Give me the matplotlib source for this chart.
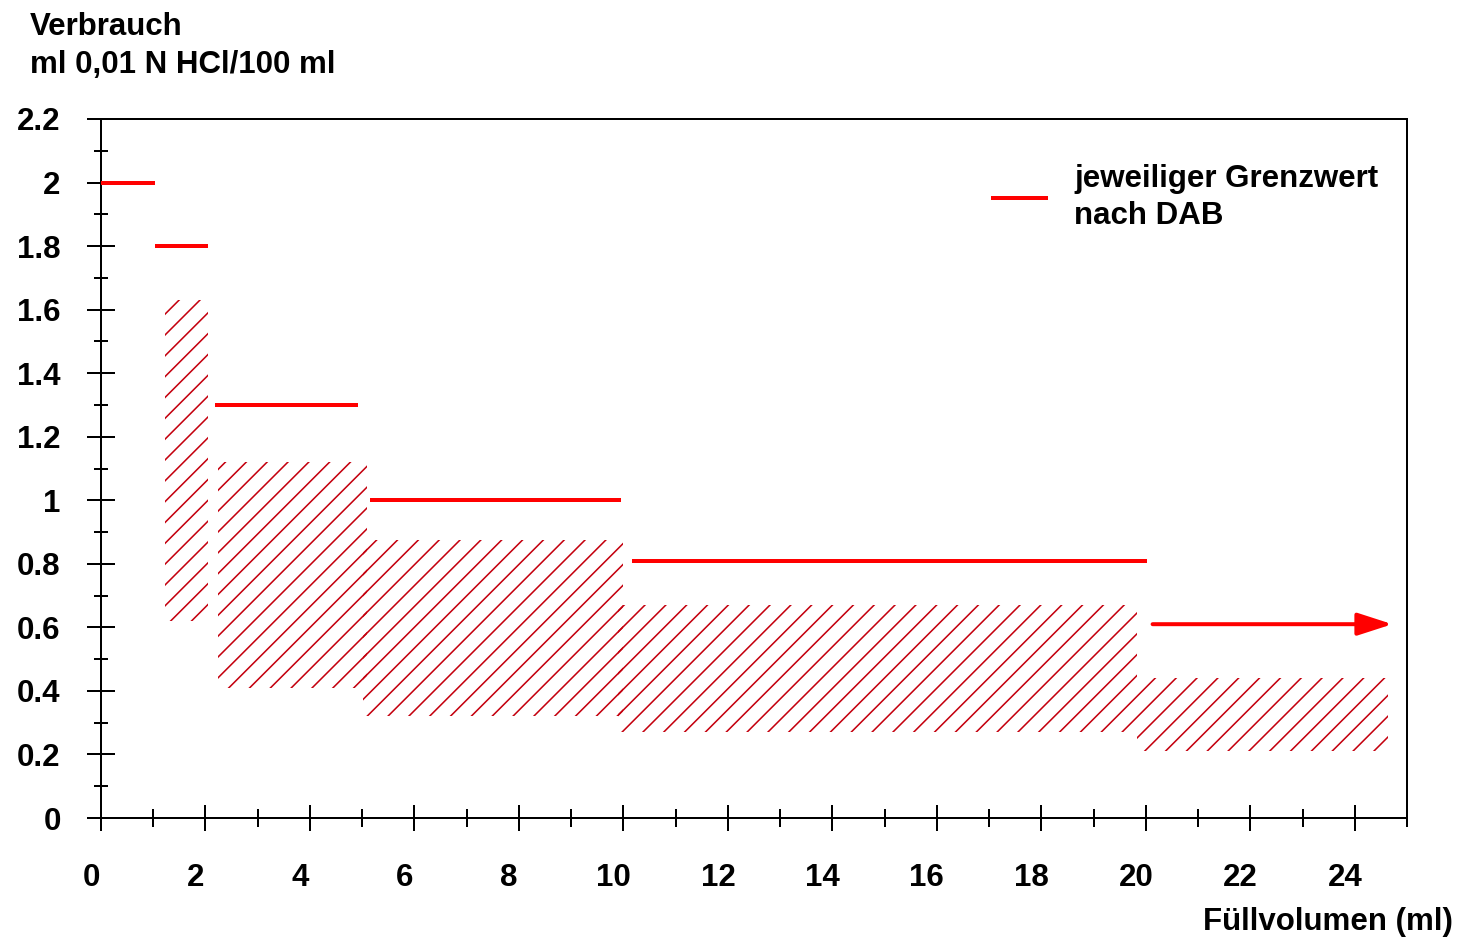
import numpy as np
import matplotlib
matplotlib.use("Agg")
import matplotlib.pyplot as plt
import matplotlib.transforms as mtransforms
from matplotlib.lines import Line2D

# Grenzwerte nach DAB (Stufen je Füllvolumen)
limit_start = [0.0, 1.03, 2.18, 5.15, 10.17, 20.13]
limit_end = [1.03, 2.05, 4.92, 9.96, 20.02, 24.72]
limit_value = [2.0, 1.8, 1.3, 1.0, 0.81, 0.61]

# gemessene Streubereiche (schraffiert)
range_left = [1.23, 2.24, 5.02, 9.9, 19.83]
range_right = [2.05, 5.09, 9.99, 19.83, 24.64]
range_low = [0.62, 0.41, 0.32, 0.27, 0.21]
range_high = [1.63, 1.12, 0.875, 0.67, 0.44]

xticks = np.arange(0, 25, 2)
yticks = np.round(np.arange(0, 2.21, 0.2), 1)
yticklabels = ["0", "0.2", "0.4", "0.6", "0.8", "1", "1.2", "1.4", "1.6", "1.8", "2", "2.2"]

DPI = 125
plt.rcParams["font.family"] = ["Liberation Sans", "DejaVu Sans"]
plt.rcParams["font.weight"] = "bold"
plt.rcParams["hatch.linewidth"] = 0.9

fig = plt.figure(figsize=(1461 / DPI, 938 / DPI), dpi=DPI)
ax = fig.add_axes([101 / 1461, 1 - 818 / 938, (1407 - 101) / 1461, (818 - 119) / 938])

hatch_col = "#c4000e"
lows = np.array(range_low)
highs = np.array(range_high)
lefts = np.array(range_left)
rights = np.array(range_right)
ax.bar(lefts, highs - lows, width=rights - lefts, bottom=lows, align="edge",
       fill=False, hatch="//", edgecolor=hatch_col, linewidth=0, zorder=2)

ax.hlines(limit_value[:-1], limit_start[:-1], limit_end[:-1], colors="#ff0000",
          linewidth=2.3, zorder=3)
ax.annotate("", xy=(limit_end[-1], limit_value[-1]),
            xytext=(limit_start[-1], limit_value[-1]),
            arrowprops=dict(arrowstyle="-|>,head_length=17,head_width=5.5",
                            mutation_scale=1, color="#ff0000", lw=2.3,
                            shrinkA=0, shrinkB=0),
            zorder=3)

ax.set_xlim(0, 25)
ax.set_ylim(0, 2.2)
ax.set_xticks(xticks)
ax.set_xticks(np.arange(1, 26, 2), minor=True)
ax.set_yticks(yticks)
ax.set_yticklabels(yticklabels)
ax.set_yticks(np.round(np.arange(0.1, 2.2, 0.2), 1), minor=True)

for s in ax.spines.values():
    s.set_linewidth(1.15)
ax.tick_params(axis="x", which="major", direction="inout", length=15.3, width=1.15,
               pad=18, labelsize=18)
ax.tick_params(axis="x", which="minor", direction="inout", length=10.5, width=1.15)
ax.tick_params(axis="y", which="major", direction="inout", length=16.5, width=1.15,
               pad=15, labelsize=18)
ax.tick_params(axis="y", which="minor", direction="inout", length=8, width=1.15)

shift = mtransforms.ScaledTranslation(-10 / DPI, 0, fig.dpi_scale_trans)
for lab in ax.get_xticklabels():
    lab.set_transform(lab.get_transform() + shift)

leg = ax.legend(handles=[Line2D([], [], color="#ff0000", lw=2.3)],
                labels=["jeweiliger Grenzwert\nnach DAB"],
                loc="upper left", bbox_to_anchor=(0.683, 0.936), frameon=False,
                borderpad=0, borderaxespad=0, handlelength=1.7, handletextpad=0.9,
                prop=dict(size=18, weight="bold"))
leg.get_texts()[0].set_linespacing(1.3)

fig.text(30 / 1461, 1 - 35 / 938, "Verbrauch", fontsize=18, fontweight="bold",
         ha="left", va="baseline")
fig.text(30 / 1461, 1 - 73 / 938, "ml 0,01 N HCl/100 ml", fontsize=18, fontweight="bold",
         ha="left", va="baseline")
fig.text(1453 / 1461, 1 - 930 / 938, "Füllvolumen (ml)", fontsize=18, fontweight="bold",
         ha="right", va="baseline")

fig.savefig("out.png", dpi=DPI)
